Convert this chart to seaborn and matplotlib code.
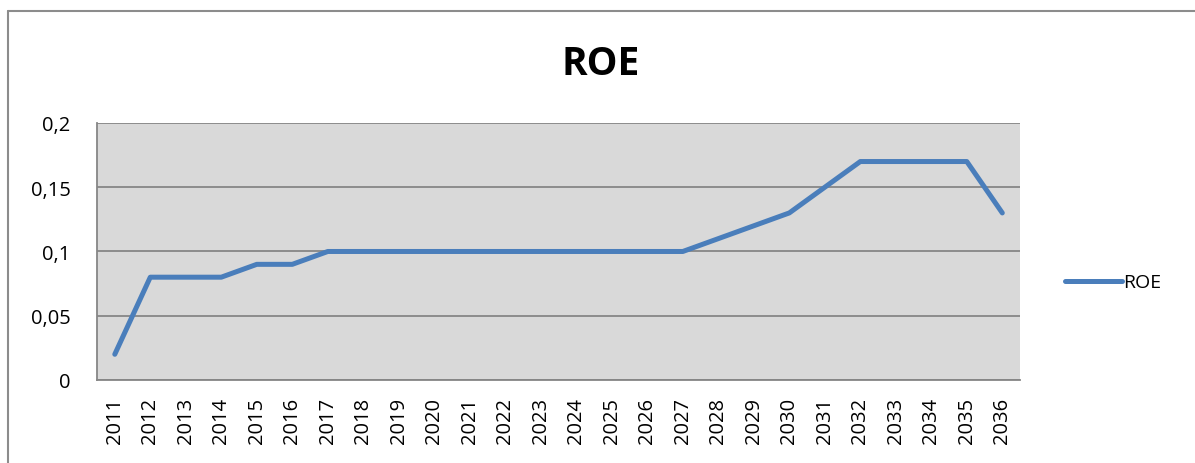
import numpy as np
import pandas as pd
import matplotlib
matplotlib.use("Agg")
import matplotlib.pyplot as plt
from matplotlib.lines import Line2D
import seaborn as sns

years = [str(y) for y in range(2011, 2037)]
roe = [0.02, 0.08, 0.08, 0.08, 0.09, 0.09, 0.10, 0.10, 0.10, 0.10,
       0.10, 0.10, 0.10, 0.10, 0.10, 0.10, 0.10, 0.11, 0.12, 0.13,
       0.15, 0.17, 0.17, 0.17, 0.17, 0.13]
y_ticks = [0, 0.05, 0.1, 0.15, 0.2]
y_labels = ["0", "0,05", "0,1", "0,15", "0,2"]

sns.set_style("white")
plt.rcParams['font.family'] = ['Open Sans', 'DejaVu Sans']
plt.rcParams['text.color'] = 'black'
plt.rcParams['xtick.labelcolor'] = 'black'
plt.rcParams['ytick.labelcolor'] = 'black'

df = pd.DataFrame({"year": years, "ROE": roe})

fig = plt.figure(figsize=(11.95, 4.64), dpi=100)
ax = fig.add_axes([0.0812, 0.1789, 0.7724, 0.5539])
ax.set_facecolor("#D9D9D9")

sns.lineplot(data=df, x="year", y="ROE", ax=ax, color="#4A7EBB",
             linewidth=3.6, solid_capstyle="round", label="ROE")

ax.set_xlim(-0.5, len(years) - 0.5)
ax.set_ylim(0, 0.2)
ax.set_yticks(y_ticks)
ax.set_yticklabels(y_labels, fontsize=14.5)
ax.yaxis.grid(True, color="#868686", linewidth=1.3)
ax.set_axisbelow(True)

ax.set_xticks(range(len(years)))
ax.set_xticklabels(years, rotation=90, fontsize=14.5)
ax.set_xticks(np.arange(-0.5, len(years)), minor=True)
ax.tick_params(axis="x", which="major", length=0, pad=12)
ax.tick_params(axis="x", which="minor", length=7, color="#868686", width=1.3)
ax.tick_params(axis="y", length=7, color="#868686", width=1.3, pad=12)
ax.set_xlabel("")
ax.set_ylabel("")

for side in ["top", "right"]:
    ax.spines[side].set_visible(False)
for side in ["left", "bottom"]:
    ax.spines[side].set_color("#868686")
    ax.spines[side].set_linewidth(1.3)

leg = ax.legend(loc="center left", bbox_to_anchor=(1.03, 0.38), frameon=False,
                fontsize=14, handlelength=2.9, handletextpad=0.1)

fig.text(0.503, 0.86, "ROE", ha="center", va="center", fontsize=28,
         fontweight="bold")

# outer chart frame (cut off at right and bottom)
fig.add_artist(Line2D([8 / 1195, 1.0], [1 - 12 / 464, 1 - 12 / 464],
                      transform=fig.transFigure, color="#8C8C8C", linewidth=1.5))
fig.add_artist(Line2D([8 / 1195, 8 / 1195], [0.0, 1 - 12 / 464],
                      transform=fig.transFigure, color="#8C8C8C", linewidth=1.5))

fig.savefig("out.png", dpi=100)
